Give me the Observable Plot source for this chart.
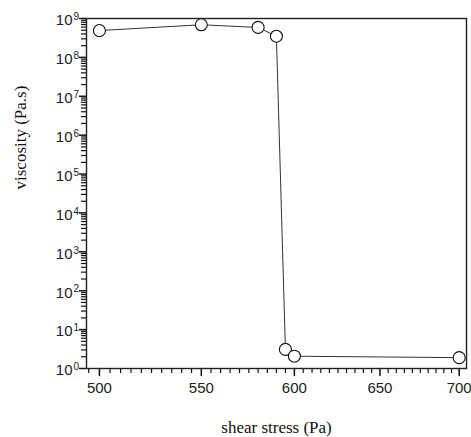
<!DOCTYPE html>
<html><head><meta charset="utf-8">
<script src="https://cdn.jsdelivr.net/npm/d3@7"></script>
<script src="https://cdn.jsdelivr.net/npm/@observablehq/plot@0.6"></script>
<style>body{margin:0;background:#fff}</style>
</head><body><div id="chart"></div>
<script>
// Data
const shearStress = [500, 550, 580, 590, 595, 600, 700];
const viscosity = [4.9e8, 6.9e8, 5.9e8, 3.5e8, 3.1, 2.07, 1.9];
const xMajorTicks = [500, 550, 600, 650, 700];
const yExponents = [0, 1, 2, 3, 4, 5, 6, 7, 8, 9];
const xTitle = "shear stress (Pa)";
const yTitle = "viscosity (Pa.s)";

const points = shearStress.map((x, i) => ({x, y: viscosity[i]}));
const yMajor = yExponents.map(e => Math.pow(10, e));
const yMinor = [];
for (let e = 0; e < 9; e++) for (let m = 2; m <= 9; m++) yMinor.push(m * Math.pow(10, e));
const xMinor = d3.range(495, 705, 5).filter(v => v % 50 !== 0);

const sans = "Liberation Sans, Arial, sans-serif";
const serif = "Liberation Serif, Times New Roman, serif";

const W = 471, H = 437, ML = 86, MR = 5, MT = 18, MB = 69;
const fw = W - ML - MR;
const stick = {draw(context, l) { context.moveTo(0, 0); context.lineTo(0, -l); }};

const chart = Plot.plot({
  width: W,
  height: H,
  marginLeft: ML,
  marginRight: MR,
  marginTop: MT,
  marginBottom: MB,
  x: {type: "log", domain: [494, 704.8], axis: null},
  y: {type: "log", domain: [1, 1e9], axis: null},
  marks: [
    Plot.text(yMajor, {y: d => d, text: () => "10", frameAnchor: "left", dx: -14, dy: 2, textAnchor: "end", lineAnchor: "middle", fontSize: 15, fontFamily: sans, fill: "#222"}),
    Plot.text(yExponents, {y: e => Math.pow(10, e), text: e => String(e), frameAnchor: "left", dx: -13, dy: -1.5, textAnchor: "start", lineAnchor: "middle", fontSize: 10, fontFamily: sans, fill: "#222"}),
    Plot.text(xMajorTicks, {x: d => d, text: d => String(d), frameAnchor: "bottom", dy: 19.5, textAnchor: "middle", lineAnchor: "middle", fontSize: 15, fontFamily: sans, fill: "#222"}),
    Plot.text([xTitle], {text: d => d, frameAnchor: "bottom", dy: 59, lineAnchor: "middle", fontSize: 17, fontFamily: serif, fill: "#111"}),
    Plot.text([yTitle], {text: d => d, frameAnchor: "left", dx: -66, dy: -4, rotate: -90, lineAnchor: "middle", fontSize: 17, fontFamily: serif, fill: "#111"}),
    // outward ticks on the left (y) and bottom (x) axes
    Plot.tickY(yMinor, {y: d => d, insetLeft: -5, insetRight: fw, stroke: "#111", strokeWidth: 1.2}),
    Plot.tickY(yMajor, {y: d => d, insetLeft: -7, insetRight: fw, stroke: "#111", strokeWidth: 1.5}),
    Plot.vector(xMinor, {x: d => d, frameAnchor: "bottom", length: 4, rotate: 180, anchor: "start", shape: stick, stroke: "#111", strokeWidth: 1.2}),
    Plot.vector(xMajorTicks, {x: d => d, frameAnchor: "bottom", length: 7, rotate: 180, anchor: "start", shape: stick, stroke: "#111", strokeWidth: 1.5}),
    Plot.frame({stroke: "#222", strokeWidth: 1.4}),
    Plot.line(points, {x: "x", y: "y", stroke: "#333", strokeWidth: 1}),
    Plot.dot(points, {x: "x", y: "y", r: 6, fill: "white", stroke: "#111", strokeWidth: 1.1})
  ]
});
document.getElementById("chart").appendChild(chart);
</script>
</body></html>
